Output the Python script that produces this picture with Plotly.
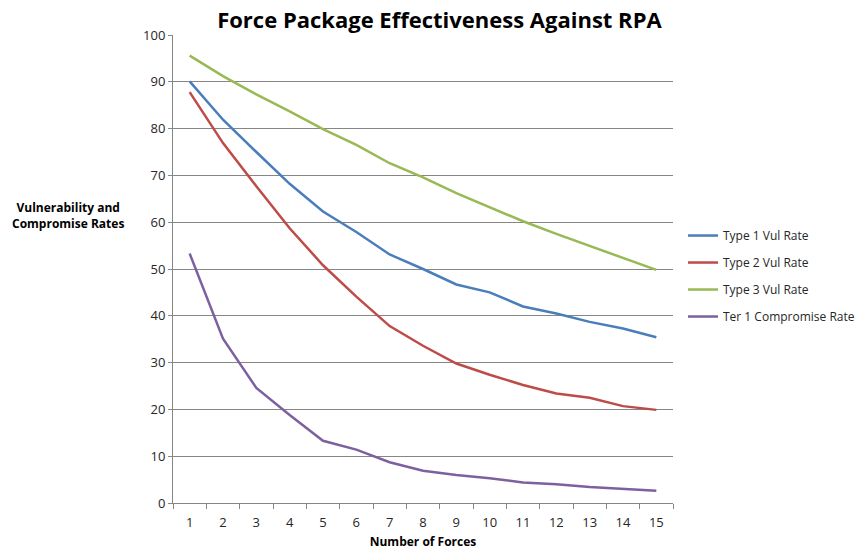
import plotly.graph_objects as go

forces = [str(i) for i in range(1, 16)]

type1_vul = [90.1, 81.9, 75.0, 68.2, 62.3, 57.9, 53.1, 50.0, 46.7, 45.0, 42.0, 40.5, 38.7, 37.3, 35.4]
type2_vul = [87.8, 76.9, 67.7, 58.7, 50.8, 44.1, 37.8, 33.6, 29.8, 27.4, 25.2, 23.4, 22.5, 20.7, 19.9]
type3_vul = [95.6, 91.2, 87.3, 83.7, 79.9, 76.5, 72.6, 69.6, 66.2, 63.2, 60.2, 57.5, 54.9, 52.3, 49.8]
ter1_comp = [53.3, 35.1, 24.6, 18.8, 13.3, 11.4, 8.7, 6.9, 6.0, 5.3, 4.4, 4.0, 3.4, 3.0, 2.6]

series = [
    ("Type 1 Vul Rate", type1_vul, "#4A7EBB"),
    ("Type 2 Vul Rate", type2_vul, "#BE4B48"),
    ("Type 3 Vul Rate", type3_vul, "#98B954"),
    ("Ter 1 Compromise Rate", ter1_comp, "#7D60A0"),
]

FONT = "Open Sans, Noto Sans, sans-serif"

fig = go.Figure()
for name, vals, color in series:
    fig.add_trace(go.Scatter(
        x=forces, y=vals, name=name, mode="lines",
        line=dict(color=color, width=2.5),
        legendgroup=name,
    ))

fig.update_layout(
    width=865, height=552,
    margin=dict(l=173, r=192, t=35, b=49, autoexpand=False),
    paper_bgcolor="white", plot_bgcolor="white",
    font=dict(family=FONT, color="#262626", size=13),
    title=dict(
        text="<b>Force Package Effectiveness Against RPA</b>",
        xref="container", x=0.508, xanchor="center", y=0.963, yanchor="middle",
        font=dict(size=22, color="#000000"),
    ),
    legend=dict(
        x=1.02, xanchor="left", y=0.485, yanchor="middle",
        font=dict(size=12, color="#262626"),
        itemwidth=30,
        tracegroupgap=8, bgcolor="rgba(0,0,0,0)",
    ),
    showlegend=True,
)

fig.update_xaxes(
    type="category",
    range=[-0.5, len(forces) - 0.5],
    automargin=False,
    showline=True, linecolor="#868686", linewidth=1,
    ticks="outside", tickson="boundaries", ticklen=5, tickcolor="#868686",
    ticklabelstandoff=7,
    showgrid=False,
    tickfont=dict(size=13, color="#262626"),
    title=dict(text="<b>Number of Forces</b>", font=dict(size=12, color="#000000"), standoff=8),
)

fig.update_yaxes(
    range=[0, 100], dtick=10,
    automargin=False,
    showline=True, linecolor="#868686", linewidth=1,
    ticks="outside", ticklen=4, tickcolor="#868686",
    showgrid=True, gridcolor="#868686", gridwidth=1,
    zeroline=False,
    tickfont=dict(size=13, color="#262626"),
)

fig.add_annotation(
    text="<b>Vulnerability and<br>Compromise Rates</b>",
    xref="paper", yref="paper",
    x=-0.21, y=0.615, xanchor="center", yanchor="middle",
    showarrow=False, align="center",
    font=dict(size=12, color="#000000"),
)

fig.write_html("out.html")
